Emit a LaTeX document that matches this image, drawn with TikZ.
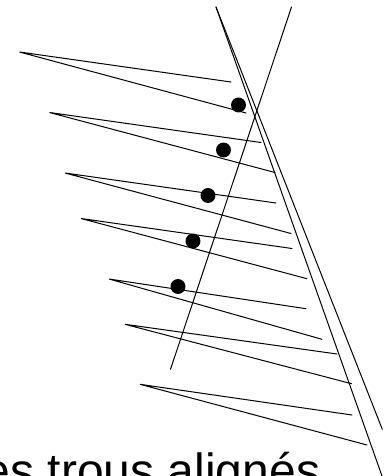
\documentclass[tikz,border=0pt]{standalone}
\usepackage{fontspec}
\setmainfont{Liberation Sans}
\tikzset{
  stroke/.style={draw=black,line width=0.75pt,line cap=round,line join=miter},
  hole/.style={circle,fill=black,draw=none,minimum size=11.2pt,inner sep=0pt},
  caption/.style={font=\fontsize{36pt}{43pt}\selectfont,anchor=base west,inner sep=0pt}
}
\begin{document}
\begin{tikzpicture}[x=0.75pt,y=-0.75pt]
\path[use as bounding box,fill=white] (0,0) rectangle (392,476);
\begin{scope}
\clip (0,0) rectangle (392,476);
% wedges
\foreach \tx/\ty/\ax/\ay/\bx/\by in {
 19.5/52/231/82/246/113,
 49.5/112.5/261/142.5/275/172.5,
 65/173/276/203/291/233.5,
 81/218.5/292/248.5/307/278.7,
 109/279/306/308.7/322/339.3,
 125/324.3/337/354/351.5/383.7,
 140/384.3/352/415/367/445}{
  \draw[stroke] (\ax,\ay) -- (\tx,\ty) -- (\bx,\by);
}
\coordinate (top) at (216,7);
\coordinate (lowa) at (382,476);
\coordinate (lowb) at (382.3,429.3);
\coordinate (c1) at (291.5,7);
\coordinate (c2) at (170.5,369.3);
\draw[stroke] (top) -- (lowa);
\draw[stroke] (top) -- (lowb);
\draw[stroke] (c1) -- (c2);
\node[hole] (h1) at (238.5,105) {};
\node[hole] (h2) at (223.5,150) {};
\node[hole] (h3) at (208,195.5) {};
\node[hole] (h4) at (193,241) {};
\node[hole] (h5) at (178,286.5) {};
\node[caption] (cap) at (-43,487) {des trous alignés};
\end{scope}
\end{tikzpicture}
\end{document}
